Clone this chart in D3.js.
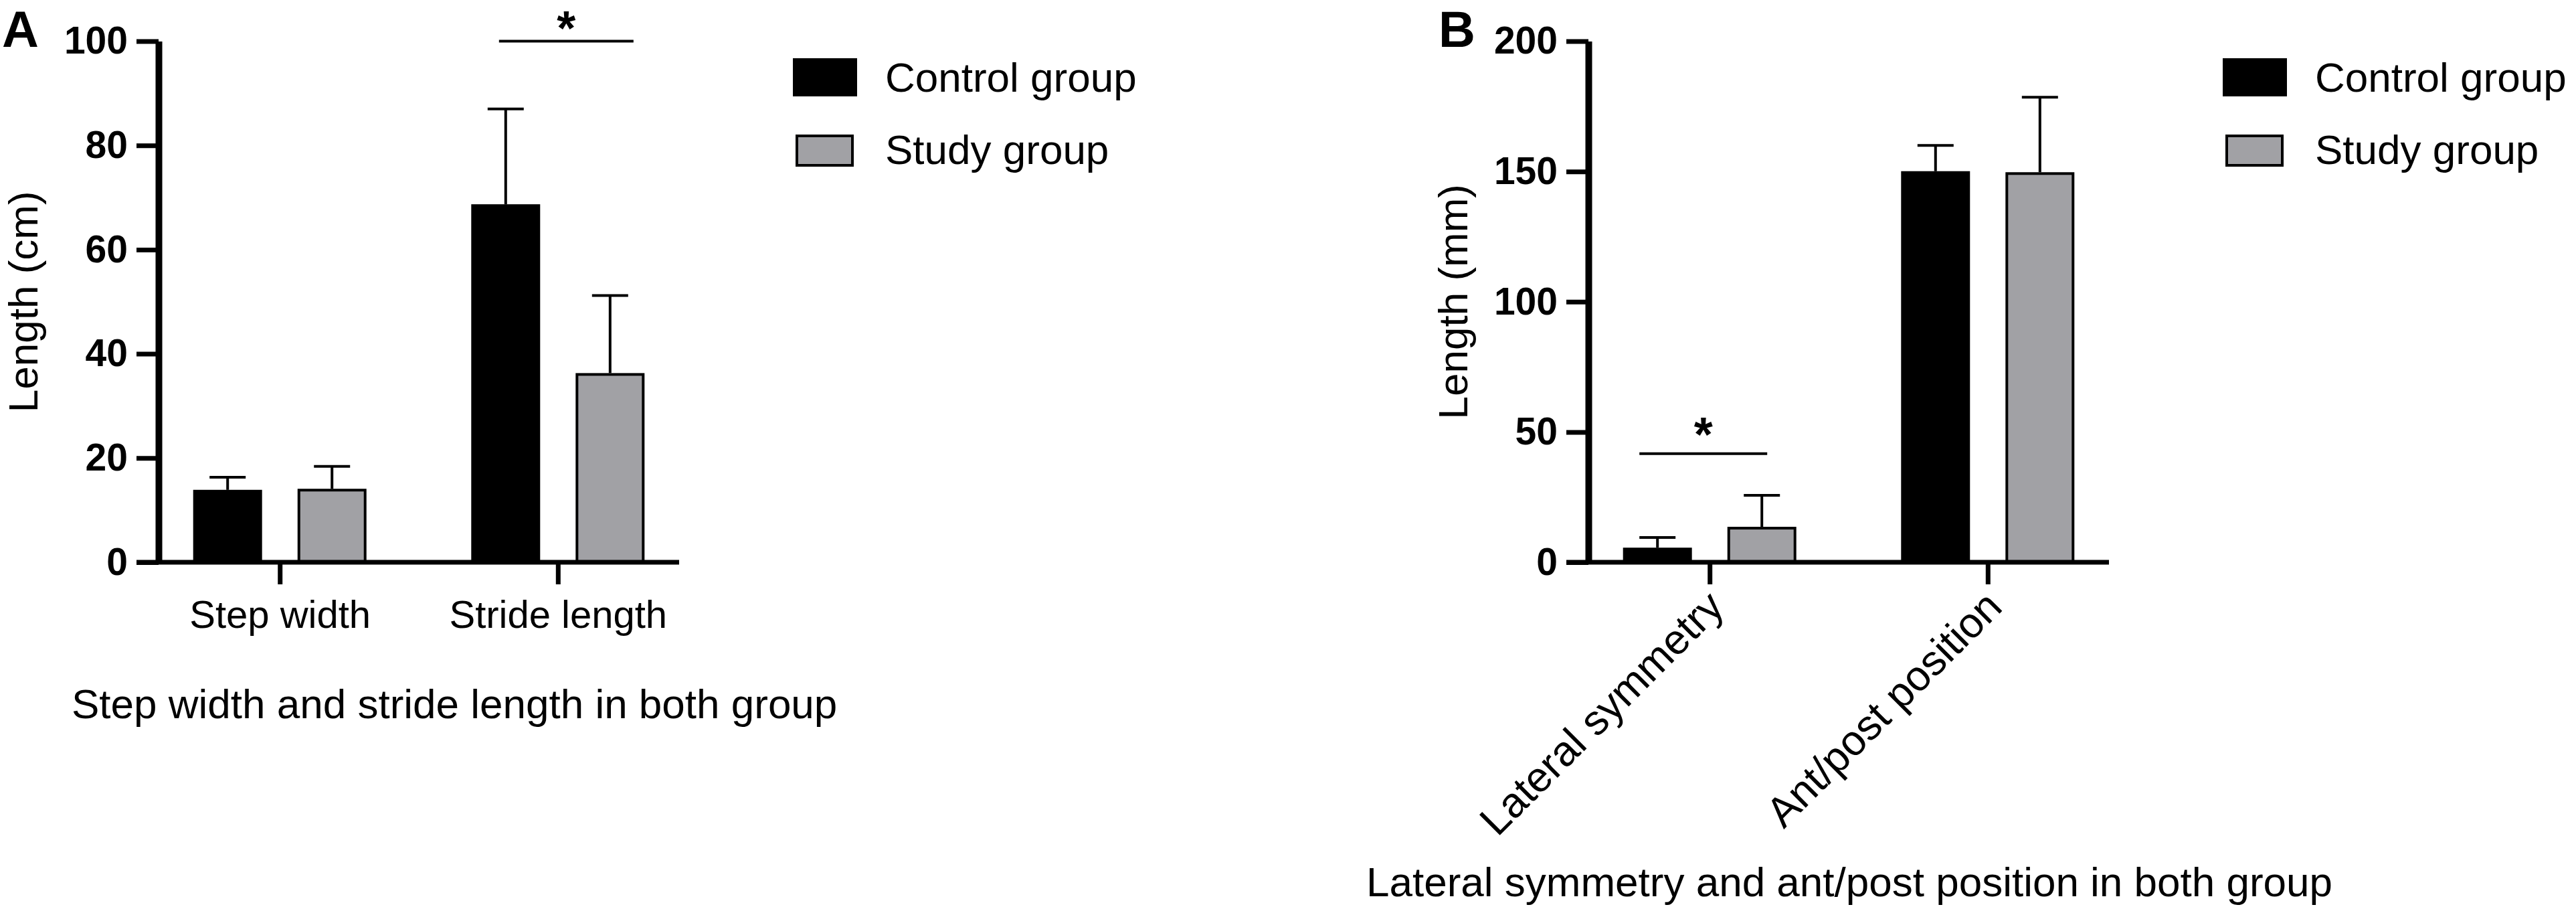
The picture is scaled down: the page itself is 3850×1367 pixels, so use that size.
<!DOCTYPE html>
<html><head><meta charset="utf-8">
<script src="https://cdn.jsdelivr.net/npm/d3@7"></script>
<style>
html,body{margin:0;padding:0;background:#fff;}
svg{display:block;font-family:"Liberation Sans",Arial,Helvetica,sans-serif;}
</style>
</head><body>
<svg id="chart" width="3850" height="1367"></svg>
<script>
// ---------- data ----------
const seriesNames = ["Control group", "Study group"];
const seriesColors = ["#000000", "#a1a1a5"];

const categoriesA = ["Step width", "Stride length"];
const controlMeanA = [13.9, 68.7];
const controlSdA = [2.4, 18.3];
const studyMeanA = [14.1, 36.3];
const studySdA = [4.3, 14.9];
const yTicksA = [0, 20, 40, 60, 80, 100];

const categoriesB = ["Lateral symmetry", "Ant/post position"];
const controlMeanB = [5.6, 150.1];
const controlSdB = [3.9, 9.9];
const studyMeanB = [13.6, 149.7];
const studySdB = [12.1, 28.8];
const yTicksB = [0, 50, 100, 150, 200];

// ---------- drawing ----------
const svg = d3.select("#chart");
const FONT = '"Liberation Sans",Arial,Helvetica,sans-serif';

function drawPanel(o) {
  const g = svg.append("g");
  const y0 = 840, yTop = 61.5, axisLen = 778, tickLen = 33;
  const y = d3.scaleLinear().domain([0, o.yMax]).range([y0, yTop]);
  const x = d3.scalePoint().domain(o.categories).range([o.axisX, o.axisX + axisLen]).padding(0.436);
  const sub = d3.scaleBand().domain(seriesNames).range([-129.5, 129.5]).paddingInner(0.34).paddingOuter(0);
  const bw = sub.bandwidth();
  const means = [o.controlMean, o.studyMean];
  const sds = [o.controlSd, o.studySd];

  const rows = [];
  o.categories.forEach((c, i) => {
    seriesNames.forEach((s, k) => {
      rows.push({cat: c, s: s, k: k, mean: means[k][i], sd: sds[k][i]});
    });
  });

  // error bars
  const eb = g.append("g").attr("stroke", "#000").attr("stroke-width", 4);
  rows.forEach(r => {
    const cx = x(r.cat) + sub(r.s) + bw / 2;
    eb.append("line").attr("x1", cx).attr("x2", cx).attr("y1", y(r.mean)).attr("y2", y(r.mean + r.sd));
    eb.append("line").attr("x1", cx - 27).attr("x2", cx + 27).attr("y1", y(r.mean + r.sd)).attr("y2", y(r.mean + r.sd));
  });

  // bars
  const sw = 4;
  g.append("g").selectAll("rect").data(rows).join("rect")
    .attr("x", d => x(d.cat) + sub(d.s) + sw / 2)
    .attr("width", bw - sw)
    .attr("y", d => y(d.mean) + sw / 2)
    .attr("height", d => y(0) - y(d.mean) - sw / 2)
    .attr("fill", d => seriesColors[d.k])
    .attr("stroke", "#000")
    .attr("stroke-width", sw);

  // x axis line
  g.append("line")
    .attr("x1", o.axisX - tickLen).attr("x2", o.axisX + axisLen)
    .attr("y1", y(0)).attr("y2", y(0))
    .attr("stroke", "#000").attr("stroke-width", 7);

  // x axis ticks
  const xa = g.append("g").attr("transform", `translate(0,${y(0)})`)
    .call(d3.axisBottom(x).tickSize(tickLen).tickSizeOuter(0).tickPadding(24));
  xa.select(".domain").remove();
  xa.selectAll(".tick line").attr("stroke", "#000").attr("stroke-width", 7);
  xa.selectAll(".tick text").attr("fill", "#000").style("font-family", FONT).style("font-size", "58px");
  if (o.rotate) {
    xa.selectAll(".tick text")
      .attr("x", 0).attr("y", 0).attr("dy", 0)
      .attr("text-anchor", "end")
      .attr("transform", "translate(24,70) rotate(-45)")
      .style("font-size", "63px");
  }

  // y axis
  const ya = g.append("g").attr("transform", `translate(${o.axisX},0)`)
    .call(d3.axisLeft(y).tickValues(o.yTicks).tickSize(tickLen).tickSizeOuter(0).tickPadding(13));
  ya.select(".domain").attr("stroke", "#000").attr("stroke-width", 10);
  ya.selectAll(".tick line").attr("stroke", "#000").attr("stroke-width", 7);
  ya.selectAll(".tick text").attr("fill", "#000").style("font-family", FONT)
    .style("font-size", "57px").style("font-weight", "bold");

  // y title
  g.append("text")
    .attr("transform", `translate(${o.axisX - 181},${(y0 + yTop) / 2}) rotate(-90)`)
    .attr("text-anchor", "middle")
    .style("font-size", "62px")
    .text(o.yTitle);

  // x title
  g.append("text")
    .attr("x", o.xTitleX).attr("y", o.xTitleY)
    .style("font-size", "62px")
    .text(o.xTitle);

  // panel letter
  g.append("text")
    .attr("x", o.letterX).attr("y", 70)
    .style("font-size", "76px").style("font-weight", "bold")
    .text(o.letter);

  // significance
  const sc = x(o.sigCat);
  g.append("line")
    .attr("x1", sc + o.sigFrom).attr("x2", sc + o.sigTo)
    .attr("y1", y(o.sigY)).attr("y2", y(o.sigY))
    .attr("stroke", "#000").attr("stroke-width", 4);
  g.append("text")
    .attr("x", sc + (o.sigFrom + o.sigTo) / 2).attr("y", y(o.sigY) + o.starDy)
    .attr("text-anchor", "middle")
    .style("font-size", "72px").style("font-weight", "bold")
    .text("*");

  // legend
  const lg = g.append("g");
  lg.append("rect").attr("x", o.axisX + 948).attr("y", 87).attr("width", 96).attr("height", 57)
    .attr("fill", seriesColors[0]);
  lg.append("rect").attr("x", o.axisX + 954).attr("y", 203).attr("width", 83).attr("height", 44)
    .attr("fill", seriesColors[1]).attr("stroke", "#000").attr("stroke-width", 4);
  seriesNames.forEach((s, k) => {
    lg.append("text").attr("x", o.axisX + 1086).attr("y", k === 0 ? 137 : 245)
      .style("font-size", "62px").text(s);
  });
}

drawPanel({
  axisX: 237, yMax: 100, yTicks: yTicksA, categories: categoriesA,
  controlMean: controlMeanA, controlSd: controlSdA, studyMean: studyMeanA, studySd: studySdA,
  yTitle: "Length (cm)", xTitle: "Step width and stride length in both group",
  xTitleX: 107, xTitleY: 1073, letter: "A", letterX: 3,
  sigCat: "Stride length", sigY: 100, sigFrom: -88, sigTo: 113, starDy: 5, rotate: false
});

drawPanel({
  axisX: 2374, yMax: 200, yTicks: yTicksB, categories: categoriesB,
  controlMean: controlMeanB, controlSd: controlSdB, studyMean: studyMeanB, studySd: studySdB,
  yTitle: "Length (mm)", xTitle: "Lateral symmetry and ant/post position in both group",
  xTitleX: 2042, xTitleY: 1339, letter: "B", letterX: 2150,
  sigCat: "Lateral symmetry", sigY: 41.7, sigFrom: -105, sigTo: 86, starDy: -4, rotate: true
});
</script>
</body></html>
